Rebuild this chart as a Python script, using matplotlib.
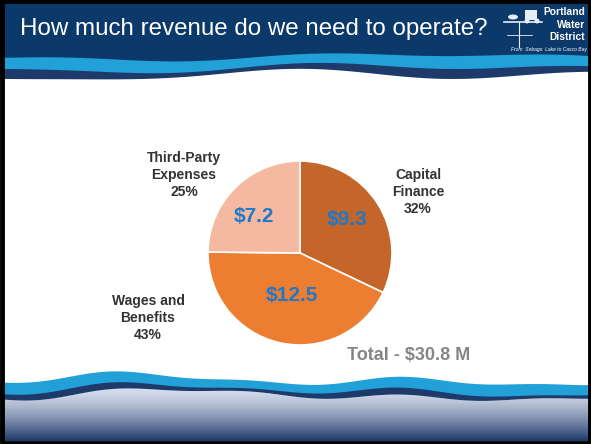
import numpy as np
import matplotlib.pyplot as plt
from matplotlib.patches import Rectangle, Ellipse

plt.rcParams['font.family'] = ['Liberation Sans', 'DejaVu Sans']

# data
categories = ['Capital\nFinance', 'Wages and\nBenefits', 'Third-Party\nExpenses']
values = [9.3, 12.5, 7.2]
shares = ['32%', '43%', '25%']
colors = ['#C4652A', '#ED7D31', '#F4B9A0']
total_label = 'Total - $30.8 M'
title = 'How much revenue do we need to operate?'

W, H = 591, 444
fig = plt.figure(figsize=(W / 100, H / 100), dpi=100)

# background slide, pixel coords
bg = fig.add_axes([0, 0, 1, 1])
bg.set_xlim(0, W)
bg.set_ylim(H, 0)
bg.axis('off')

x = np.linspace(0, W, 600)

# header + top waves
h_navy = 58 + 3 * np.sin(x / 95 + 0.3) - 2 * np.sin(x / 40)
h_light = h_navy + 11 + 2 * np.sin(x / 60)
h_dark = h_light + 6 + 3 * np.sin(x / 70 + 1.5)
bg.fill_between(x, 0, h_navy, color='#0B396A', lw=0)
bg.fill_between(x, h_navy - 1, h_light, color='#22A0D8', lw=0)
bg.fill_between(x, h_light - 1, h_dark, color='#1D3A6B', lw=0)

# bottom waves + gradient
b_top = 380 + 4 * np.cos(x / 45 + 0.2) - 3 * np.sin(x / 110 + 0.5) + 2 * np.sin(x / 23)
b_mid = b_top + 10 + 2 * np.sin(x / 70 + 1.0)
b_dark = b_mid + 5 + 2 * np.sin(x / 50)
grad = np.linspace(0, 1, 256).reshape(-1, 1)
top_c = np.array([0.84, 0.87, 0.93])
bot_c = np.array([0.12, 0.22, 0.41])
img = top_c + (bot_c - top_c) * grad ** 1.4
bg.imshow(img[:, None, :].repeat(2, axis=1), extent=(0, W, H - 3, 388),
          aspect='auto', zorder=1)
bg.fill_between(x, 360, b_dark, color='white', lw=0, zorder=2)
bg.fill_between(x, b_mid - 1, b_dark, color='#1D3A6B', lw=0, zorder=3)
bg.fill_between(x, b_top, b_mid, color='#22A0D8', lw=0, zorder=3)
bg.set_xlim(0, W)
bg.set_ylim(H, 0)

# border
bg.add_patch(Rectangle((1.5, 1.5), W - 3, H - 3, fill=False, ec='black', lw=3.5, zorder=10))

# title and logo text
bg.text(20, 29, title, color='white', fontsize=17.4, va='center', ha='left')
for i, s in enumerate(['Portland', 'Water', 'District']):
    bg.text(585, 12 + i * 12.5, s, color='white', fontsize=7.4, fontweight='bold',
            ha='right', va='center')
bg.text(587, 50, 'From  Sebago  Lake to Casco Bay', color='white', fontsize=3.6,
        style='italic', ha='right', va='center')
# weathervane
vc = '#E8EEF5'
bg.plot([504, 542], [22, 22], color=vc, lw=1.2)
bg.plot([519, 519], [22, 47], color=vc, lw=0.8)
bg.plot([507, 532], [35, 35], color=vc, lw=0.6)
bg.add_patch(Rectangle((525, 10), 12, 10, color=vc, lw=0))
bg.add_patch(Ellipse((513, 17), 10, 5, color=vc, lw=0))
bg.add_patch(Ellipse((527, 21), 5, 5, color=vc, lw=0))
bg.add_patch(Ellipse((537, 21), 5, 5, color=vc, lw=0))

# pie
cx, cy, r = 300, 253, 92
ax = fig.add_axes([(cx - r) / W, (H - cy - r) / H, 2 * r / W, 2 * r / H])
wedges, _ = ax.pie(values, colors=colors, startangle=90, counterclock=False,
                   wedgeprops=dict(edgecolor='white', linewidth=1.2))
ax.set_xlim(-1.0, 1.0)
ax.set_ylim(-1.0, 1.0)
ax.set_aspect('equal')
label_r = [0.63, 0.47, 0.635]
label_shift = [3, 2, 7]  # degrees
for w, v, lr, sh in zip(wedges, values, label_r, label_shift):
    ang = np.deg2rad((w.theta1 + w.theta2) / 2 + sh)
    ax.text(lr * np.cos(ang), lr * np.sin(ang), f'${v}', color='#1F78C8',
            fontsize=15, fontweight='bold', ha='center', va='center')

# outer labels
outer_pos = [(418, 192), (148, 318), (184, 175)]
for (tx, ty), c, s in zip(outer_pos, categories, shares):
    bg.text(tx, ty, f'{c}\n{s}', color='#333333', fontsize=10, fontweight='bold',
            ha='center', va='center', linespacing=1.25, zorder=5)

bg.text(409, 355, total_label, color='#858585', fontsize=13, fontweight='bold',
        ha='center', va='center', zorder=5)

fig.savefig('out.png', dpi=100)
